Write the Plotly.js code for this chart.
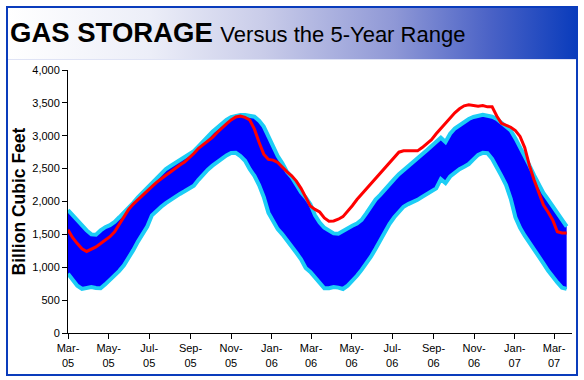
<!DOCTYPE html>
<html>
<head>
<meta charset="utf-8">
<script src="https://cdn.plot.ly/plotly-3.0.1.min.js"></script>
<style>
  html, body { margin: 0; padding: 0; background: #ffffff; }
  #wrap { position: relative; width: 584px; height: 380px; overflow: hidden; background: #ffffff; }
  #frame { position: absolute; left: 6px; top: 6px; width: 568px; height: 366px; border: 2px solid #0a3cbc; box-sizing: content-box; }
  #band { position: absolute; left: 0; top: 0; width: 100%; height: 51px;
          background: linear-gradient(to right, #ffffff 0%, #eceef8 25%, #c9cce9 45%, #8f98d6 68%, #4a62c6 85%, #0a3cbc 100%);
          border-bottom: 1px solid #dfe3f5; }
  #chart { position: absolute; left: 0; top: 0; width: 584px; height: 380px; }
</style>
</head>
<body>
<div id="wrap">
  <div id="frame"><div id="band"></div></div>
  <div id="chart"></div>
</div>
<script>
// Weekly report dates
const dates = [
  "2005-03-04","2005-03-11","2005-03-18","2005-03-25","2005-04-01","2005-04-08","2005-04-15","2005-04-22","2005-04-29",
  "2005-05-06","2005-05-13","2005-05-20","2005-05-27","2005-06-03","2005-06-10","2005-06-17","2005-06-24",
  "2005-07-01","2005-07-08","2005-07-15","2005-07-22","2005-07-29","2005-08-05","2005-08-12","2005-08-19","2005-08-26",
  "2005-09-02","2005-09-09","2005-09-16","2005-09-23","2005-09-30","2005-10-07","2005-10-14","2005-10-21","2005-10-28",
  "2005-11-04","2005-11-11","2005-11-18","2005-11-25","2005-12-02","2005-12-09","2005-12-16","2005-12-23","2005-12-30",
  "2006-01-06","2006-01-13","2006-01-20","2006-01-27","2006-02-03","2006-02-10","2006-02-17","2006-02-24",
  "2006-03-03","2006-03-10","2006-03-17","2006-03-24","2006-03-31","2006-04-07","2006-04-14","2006-04-21","2006-04-28",
  "2006-05-05","2006-05-12","2006-05-19","2006-05-26","2006-06-02","2006-06-09","2006-06-16","2006-06-23","2006-06-30",
  "2006-07-07","2006-07-14","2006-07-21","2006-07-28","2006-08-04","2006-08-11","2006-08-18","2006-08-25",
  "2006-09-01","2006-09-08","2006-09-15","2006-09-22","2006-09-29","2006-10-06","2006-10-13","2006-10-20","2006-10-27",
  "2006-11-03","2006-11-10","2006-11-17","2006-11-24","2006-12-01","2006-12-08","2006-12-15","2006-12-22","2006-12-29",
  "2007-01-05","2007-01-12","2007-01-19","2007-01-26","2007-02-02","2007-02-09","2007-02-16","2007-02-23",
  "2007-03-02","2007-03-09","2007-03-16","2007-03-23"
];

// 5-year maximum (upper edge of range), Bcf
const rangeMax = [
  1870,1790,1710,1630,1560,1500,1495,1560,1610,1640,1690,1760,1830,1895,1980,2065,2140,2210,2280,2345,
  2420,2495,2540,2585,2620,2670,2715,2765,2840,2920,2990,3060,3120,3185,3240,3285,3305,3315,3315,3305,
  3290,3230,3140,2990,2830,2690,2580,2450,2370,2260,2140,2060,1960,1790,1680,1600,1550,1515,1510,1555,
  1600,1630,1665,1720,1820,1920,2030,2100,2185,2260,2340,2415,2480,2540,2600,2665,2720,2780,2840,2910,
  2970,2905,3030,3110,3160,3215,3255,3285,3310,3320,3305,3290,3255,3200,3140,3080,2960,2830,2690,2550,
  2400,2260,2130,2030,1925,1820,1720,1620
];

// 5-year minimum (lower edge of range), Bcf
const rangeMin = [
  900,800,720,670,680,700,685,680,740,805,870,945,1030,1140,1260,1390,1510,1620,1790,1860,
  1920,1975,2025,2075,2115,2155,2195,2240,2330,2410,2485,2545,2600,2650,2700,2738,2740,2690,2620,2490,
  2390,2250,2070,1830,1690,1580,1500,1410,1330,1220,1120,990,930,850,760,680,680,700,690,670,
  720,790,870,960,1050,1160,1280,1410,1540,1660,1760,1850,1920,1960,1990,2025,2070,2115,2155,2200,
  2340,2280,2380,2445,2490,2530,2570,2640,2710,2740,2735,2650,2530,2390,2250,2040,1760,1600,1480,1380,
  1280,1180,1060,950,850,770,690,670
];

// Actual working gas in storage, Bcf
const storage = [
  1570,1450,1360,1280,1240,1270,1310,1360,1410,1465,1540,1650,1770,1880,1960,2030,2095,2160,2225,2290,
  2350,2400,2450,2510,2555,2600,2660,2730,2810,2870,2920,2975,3050,3120,3180,3240,3285,3300,3280,3240,
  3100,2900,2720,2640,2630,2595,2520,2450,2390,2310,2200,2060,1930,1880,1840,1750,1700,1705,1730,1770,
  1850,1935,2030,2110,2200,2280,2360,2430,2510,2590,2670,2750,2770,2770,2770,2770,2820,2880,2940,3030,
  3110,3190,3270,3350,3410,3455,3470,3465,3450,3460,3440,3440,3300,3190,3160,3130,3080,2990,2820,2550,
  2330,2130,1950,1840,1720,1540,1520,1520
];

// Axis ticks
const xTickVals = ["2005-03-04","2005-05-04","2005-07-04","2005-09-04","2005-11-04","2006-01-04","2006-03-04",
                   "2006-05-04","2006-07-04","2006-09-04","2006-11-04","2007-01-04","2007-03-04"];
const xTickText = ["Mar-<br>05","May-<br>05","Jul-<br>05","Sep-<br>05","Nov-<br>05","Jan-<br>06","Mar-<br>06",
                   "May-<br>06","Jul-<br>06","Sep-<br>06","Nov-<br>06","Jan-<br>07","Mar-<br>07"];
const yTickVals = [0,500,1000,1500,2000,2500,3000,3500,4000];
const yTickText = ["0","500","1,000","1,500","2,000","2,500","3,000","3,500","4,000"];

const FONT = "Arial, 'Liberation Sans', sans-serif";

const traces = [
  { x: dates, y: rangeMin, type: "scatter", mode: "lines", name: "5-Year Min",
    line: { color: "#1ccdf5", width: 4 }, hoverinfo: "skip" },
  { x: dates, y: rangeMax, type: "scatter", mode: "lines", name: "5-Year Max",
    fill: "tonexty", fillcolor: "#0000ff",
    line: { color: "#1ccdf5", width: 4 }, hoverinfo: "skip" },
  { x: dates, y: storage, type: "scatter", mode: "lines", name: "Storage",
    line: { color: "#ff0000", width: 3 } }
];

const layout = {
  width: 584, height: 380,
  margin: { l: 68, r: 12, t: 70, b: 47, pad: 0 },
  paper_bgcolor: "rgba(0,0,0,0)",
  plot_bgcolor: "#ffffff",
  showlegend: false,
  font: { family: FONT, color: "#000000", size: 11 },
  title: {
    text: "<b>GAS STORAGE</b> <span style='font-size:22px'>Versus the 5-Year Range</span>",
    font: { family: FONT, size: 27.5, color: "#000000" },
    xref: "container", yref: "container",
    x: 10 / 584, xanchor: "left",
    y: 1 - 32 / 380, yanchor: "middle"
  },
  xaxis: {
    type: "date",
    range: ["2005-03-04", "2007-03-31"],
    tickmode: "array", tickvals: xTickVals, ticktext: xTickText,
    ticks: "outside", ticklen: 5, tickcolor: "#000000", tickwidth: 1,
    showline: true, linecolor: "#000000", linewidth: 1,
    showgrid: false, zeroline: false,
    tickfont: { family: FONT, size: 11, color: "#000000" }
  },
  yaxis: {
    range: [0, 4000],
    tickmode: "array", tickvals: yTickVals, ticktext: yTickText,
    ticks: "outside", ticklen: 5, tickcolor: "#000000", tickwidth: 1,
    showline: true, linecolor: "#000000", linewidth: 1,
    showgrid: false, zeroline: false,
    tickfont: { family: FONT, size: 11, color: "#000000" },
    title: { text: "<b>Billion Cubic Feet</b>", font: { family: FONT, size: 17.5, color: "#000000" }, standoff: 2 }
  }
};

Plotly.newPlot("chart", traces, layout, { displayModeBar: false, staticPlot: true });
</script>
</body>
</html>
